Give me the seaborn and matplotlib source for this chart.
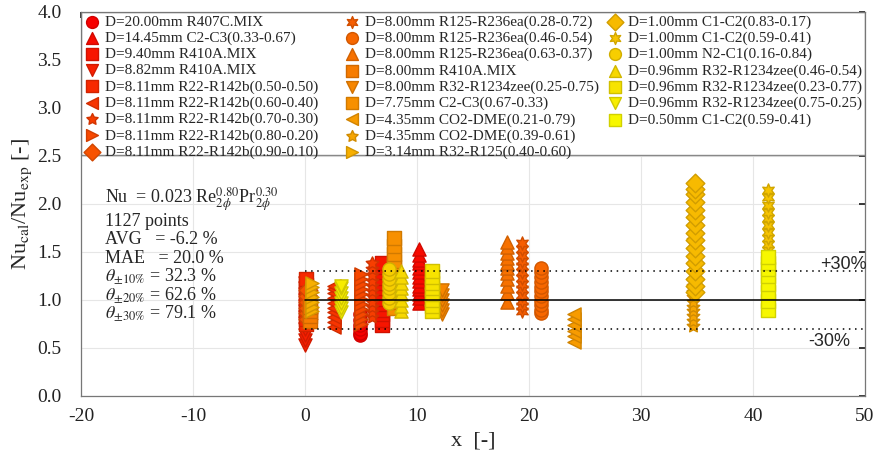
import numpy as np
import pandas as pd
import matplotlib
matplotlib.use("Agg")
import matplotlib.pyplot as plt
from matplotlib.patches import Rectangle
import seaborn as sns

# ---------------- data ----------------
labels = [
    "D=20.00mm R407C.MIX", "D=14.45mm C2-C3(0.33-0.67)", "D=9.40mm R410A.MIX",
    "D=8.82mm R410A.MIX", "D=8.11mm R22-R142b(0.50-0.50)", "D=8.11mm R22-R142b(0.60-0.40)",
    "D=8.11mm R22-R142b(0.70-0.30)", "D=8.11mm R22-R142b(0.80-0.20)", "D=8.11mm R22-R142b(0.90-0.10)",
    "D=8.00mm R125-R236ea(0.28-0.72)", "D=8.00mm R125-R236ea(0.46-0.54)", "D=8.00mm R125-R236ea(0.63-0.37)",
    "D=8.00mm R410A.MIX", "D=8.00mm R32-R1234zee(0.25-0.75)", "D=7.75mm C2-C3(0.67-0.33)",
    "D=4.35mm CO2-DME(0.21-0.79)", "D=4.35mm CO2-DME(0.39-0.61)", "D=3.14mm R32-R125(0.40-0.60)",
    "D=1.00mm C1-C2(0.83-0.17)", "D=1.00mm C1-C2(0.59-0.41)", "D=1.00mm N2-C1(0.16-0.84)",
    "D=0.96mm R32-R1234zee(0.46-0.54)", "D=0.96mm R32-R1234zee(0.23-0.77)",
    "D=0.96mm R32-R1234zee(0.75-0.25)", "D=0.50mm C1-C2(0.59-0.41)",
]

x_pos = [4.9, 10.2, 6.9, 0.0, 0.1, 2.6, 6.0, 5.0, 0.3, 19.4, 21.1, 18.0, 0.4, 12.2, 7.9,
         24.0, 34.6, 0.6, 34.8, 41.3, 7.5, 8.6, 11.3, 3.2, 41.3]

y_vals = [
    [0.63, 0.66, 0.70, 0.74, 0.79, 0.85],
    [0.97, 1.02, 1.06, 1.11, 1.15, 1.20, 1.24, 1.29, 1.33, 1.38, 1.42, 1.47, 1.53],
    [0.74, 0.79, 0.85, 0.90, 0.96, 1.01, 1.07, 1.12, 1.18, 1.23, 1.29, 1.34, 1.39],
    [0.53, 0.58, 0.64, 0.70, 0.76, 0.82, 0.88, 0.94, 1.00, 1.06, 1.12, 1.18],
    [0.75, 0.80, 0.86, 0.92, 0.98, 1.04, 1.10, 1.16, 1.22],
    [0.72, 0.77, 0.82, 0.87, 0.92, 0.97, 1.02, 1.07, 1.11, 1.15],
    [0.82, 0.87, 0.93, 0.98, 1.04, 1.09, 1.15, 1.20, 1.26, 1.32, 1.38],
    [0.75, 0.80, 0.85, 0.91, 0.96, 1.01, 1.06, 1.11, 1.17, 1.22, 1.27],
    [0.80, 0.86, 0.92, 0.98, 1.04, 1.10],
    [0.89, 0.94, 0.99, 1.05, 1.11, 1.17, 1.23, 1.29, 1.35, 1.41, 1.47, 1.53, 1.59],
    [0.86, 0.90, 0.95, 0.99, 1.04, 1.09, 1.14, 1.19, 1.24, 1.29, 1.33],
    [0.98, 1.07, 1.15, 1.22, 1.28, 1.33, 1.38, 1.44, 1.49, 1.55, 1.60],
    [0.78, 0.83, 0.88, 0.93],
    [0.85, 0.90, 0.95, 1.00, 1.05, 1.10],
    [0.92, 0.98, 1.04, 1.10, 1.16, 1.22, 1.28, 1.34, 1.41, 1.48, 1.56, 1.65],
    [0.56, 0.62, 0.68, 0.74, 0.80, 0.85],
    [0.73, 0.78, 0.83, 0.88, 0.93, 0.98, 1.03, 1.08, 1.15, 1.21, 1.62],
    [0.88, 0.93, 0.98, 1.03, 1.08, 1.13, 1.18],
    [1.08, 1.15, 1.22, 1.30, 1.38, 1.46, 1.54, 1.62, 1.70, 1.78, 1.86, 1.94, 2.02, 2.10, 2.16, 2.22],
    [1.45, 1.52, 1.58, 1.65, 1.71, 1.78, 1.85, 1.92, 1.99, 2.07, 2.15],
    [0.97, 1.02, 1.07, 1.12, 1.17, 1.22, 1.27, 1.32],
    [0.88, 0.94, 1.00, 1.06, 1.12, 1.18, 1.24, 1.30],
    [0.88, 0.94, 1.00, 1.06, 1.12, 1.18, 1.24, 1.30],
    [0.87, 0.92, 0.97, 1.02, 1.07, 1.12, 1.15],
    [0.90, 0.99, 1.08, 1.17, 1.25, 1.32, 1.39, 1.45],
]

stats_text = [
    r"Nu  = 0.023 Re$_{2\phi}^{0.80}$Pr$_{2\phi}^{0.30}$",
    "1127 points",
    "AVG   = -6.2 %",
    "MAE   = 20.0 %",
    r"$\theta_{\pm 10\%}$ = 32.3 %",
    r"$\theta_{\pm 20\%}$ = 62.6 %",
    r"$\theta_{\pm 30\%}$ = 79.1 %",
]

# ---------------- style ----------------
sns.set_theme(style="whitegrid")
plt.rcParams["font.family"] = ["Liberation Serif", "DejaVu Serif"]
plt.rcParams["mathtext.fontset"] = "stix"

hexagram = (6, 1, 0)
pentagram = (5, 1, 0)
marker_cycle = ["o", "^", "s", "v", "s", "<", pentagram, ">", "D", hexagram]

fig = plt.figure(figsize=(8.75, 4.59), dpi=100)
ax = fig.add_axes([0.0926, 0.1373, 0.896, 0.8367])

n = len(labels)
for i in range(n):
    g = i / (n - 1)
    face = (0.97, 0.97 * g, 0.0)
    edge = (0.82, 0.82 * g, 0.0)
    df = pd.DataFrame({"x": [x_pos[i]] * len(y_vals[i]), "y": y_vals[i]})
    sns.scatterplot(data=df, x="x", y="y", ax=ax, marker=marker_cycle[i % 10],
                    color=face, edgecolor=edge, linewidth=1.0, s=90,
                    label=labels[i], zorder=3)

ax.plot([0, 50], [1.0, 1.0], color="black", lw=1.1, zorder=4)
ax.plot([0, 50], [1.3, 1.3], color="black", lw=1.1, ls=(0, (1, 3)), zorder=4)
ax.plot([0, 50], [0.7, 0.7], color="black", lw=1.1, ls=(0, (1, 3)), zorder=4)

ax.text(46.0, 1.365, "+30%", fontsize=13, family=["Liberation Sans"], va="center", zorder=5)
ax.text(44.9, 0.57, "-30%", fontsize=13, family=["Liberation Sans"], va="center", zorder=5)

ys = [2.04, 1.82, 1.625, 1.43, 1.25, 1.05, 0.86]
for t, yy in zip(stats_text, ys):
    ax.text(-17.9, yy, t, fontsize=13, va="center", ha="left", zorder=5)

ax.set_xlim(-20, 50)
ax.set_ylim(0, 4)
ax.set_xticks(np.arange(-20, 51, 10))
ax.set_yticks(np.arange(0, 4.01, 0.5))
ax.set_xticklabels([f"{int(v)}" for v in np.arange(-20, 51, 10)])
ax.set_yticklabels([f"{v:.1f}" for v in np.arange(0, 4.01, 0.5)])
ax.tick_params(axis="both", labelsize=14, colors="#222222", direction="in",
               length=4, top=True, right=True)
ax.tick_params(axis="x", pad=9)
ax.tick_params(axis="y", pad=14)
ax.grid(True, color="#e6e6e6", lw=0.8)
ax.set_axisbelow(True)
for sp in ax.spines.values():
    sp.set_color("#777777")
    sp.set_linewidth(0.9)

ax.set_xlabel("x  [-]", fontsize=16, labelpad=4)
ax.set_ylabel(r"Nu$_{\rm cal}$/Nu$_{\rm exp}$ [-]", fontsize=16, labelpad=2)

# legend panel (three equal-width columns)
ax.add_patch(Rectangle((0, 0.627), 1, 0.373, transform=ax.transAxes, facecolor="white",
                       edgecolor="#888888", lw=1.0, zorder=2.5))
handles, labs = ax.get_legend_handles_labels()
col_slices = [(0, 9), (9, 18), (18, 25)]
col_x = [0.0, 0.332, 0.667]
legs = []
for (a, b), cx in zip(col_slices, col_x):
    lg = ax.legend(handles[a:b], labs[a:b], loc="upper left", bbox_to_anchor=(cx, 1.0),
                   frameon=False, fontsize=11, labelspacing=0.16, handletextpad=0.35,
                   borderaxespad=0.0, handlelength=1.0, borderpad=0.2, markerscale=0.9)
    lg.set_zorder(6)
    legs.append(lg)
for lg in legs[:-1]:
    ax.add_artist(lg)

fig.savefig("out.png", dpi=100)
